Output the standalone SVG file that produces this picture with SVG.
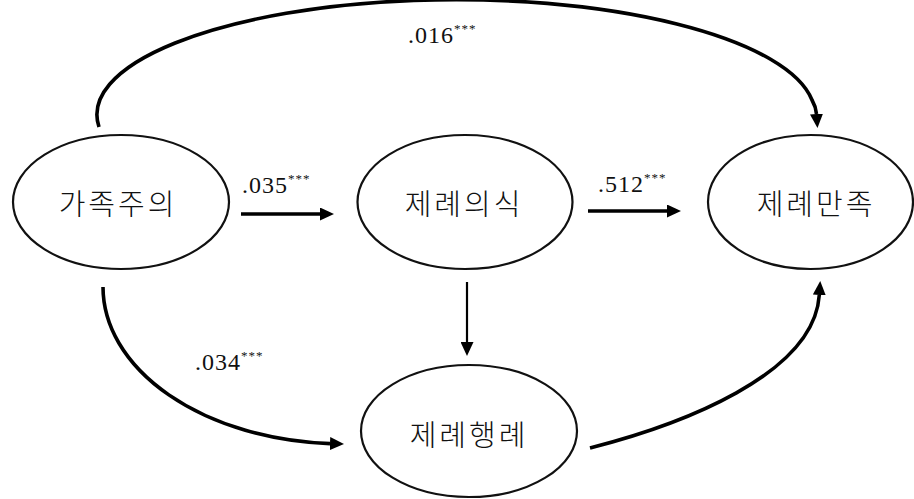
<svg xmlns="http://www.w3.org/2000/svg" width="914" height="499" viewBox="0 0 914 499">
<style>
.node{fill:#fff;stroke:#111;stroke-width:2.2}
.lbl{font-family:"Noto Sans CJK KR","Noto Sans",sans-serif;font-size:29px;font-weight:300;letter-spacing:3px;fill:#111;text-anchor:middle}
.num{font-family:"Liberation Serif","Times New Roman",serif;font-size:24px;letter-spacing:1px;fill:#111}
.sup{font-size:13px;letter-spacing:1px}
.edge{fill:none;stroke:#000;stroke-width:3.6}
.thin{fill:none;stroke:#000;stroke-width:2.2}
</style>
<defs>
<marker id="ah" markerUnits="userSpaceOnUse" markerWidth="14" markerHeight="13" viewBox="0 0 14 13" refX="0" refY="6.5" orient="auto">
<path d="M0,0 L14,6.5 L0,13 z" fill="#000"/>
</marker>
</defs>
<rect width="914" height="499" fill="#fff"/>
<g id="edges">
<path class="edge" d="M99,127 A359,115 0 0 1 812,100 Q816,107 816.5,114" marker-end="url(#ah)"/>
<path class="edge" d="M241,214 L320,214" marker-end="url(#ah)"/>
<path class="edge" d="M588,211 L667,211" marker-end="url(#ah)"/>
<path class="thin" d="M467,282 L467,342" marker-end="url(#ah)"/>
<path class="edge" d="M103,287 A240,157 0 0 0 330,443.6" marker-end="url(#ah)"/>
<path class="edge" d="M590,448 C680,425 814,375 819.3,295" marker-end="url(#ah)"/>
</g>
<g id="labels">
<text class="num" x="408" y="43">.016<tspan class="sup" dy="-10">***</tspan></text>
<text class="num" x="242" y="193">.035<tspan class="sup" dy="-10">***</tspan></text>
<text class="num" x="598" y="192">.512<tspan class="sup" dy="-10">***</tspan></text>
<text class="num" x="195" y="370">.034<tspan class="sup" dy="-10">***</tspan></text>
</g>
<g id="n1">
<ellipse class="node" cx="121" cy="202" rx="108" ry="67"/>
<text class="lbl" x="118" y="215">가족주의</text>
</g>
<g id="n2">
<ellipse class="node" cx="465" cy="202" rx="107.5" ry="67"/>
<text class="lbl" x="464" y="215">제례의식</text>
</g>
<g id="n3">
<ellipse class="node" cx="810.5" cy="202" rx="102.5" ry="67"/>
<text class="lbl" x="816" y="215">제례만족</text>
</g>
<g id="n4">
<ellipse class="node" cx="469" cy="431" rx="108" ry="66"/>
<text class="lbl" x="469" y="446">제례행례</text>
</g>
</svg>
